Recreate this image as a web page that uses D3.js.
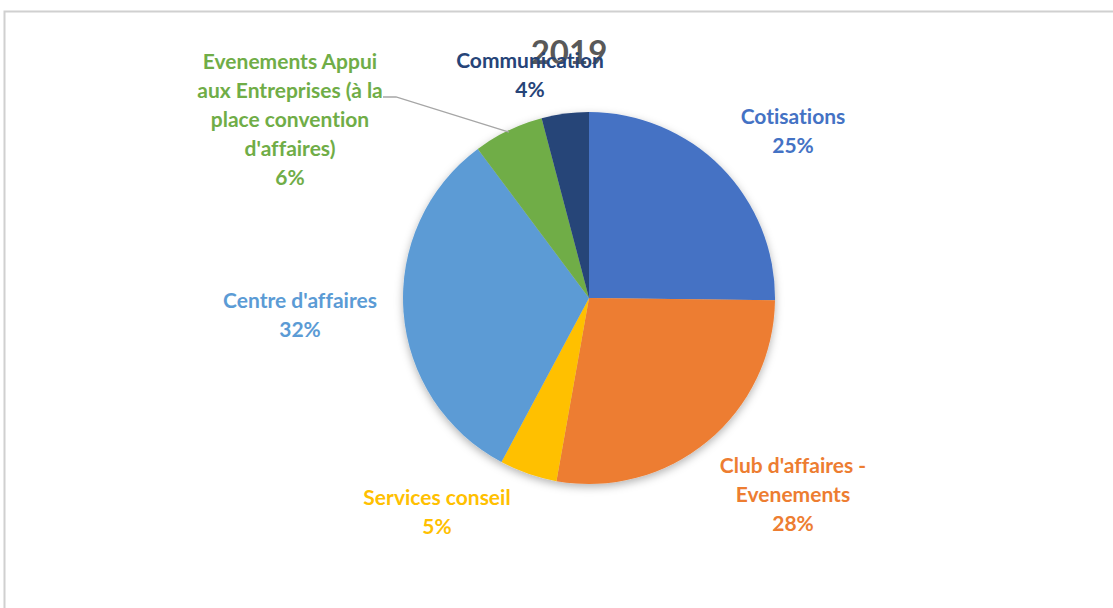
<!DOCTYPE html>
<html>
<head>
<meta charset="utf-8">
<script src="https://cdn.jsdelivr.net/npm/d3@7"></script>
<style>
  html, body { margin: 0; padding: 0; background: #fff; }
  svg { display: block; }
  text { font-family: Lato, "Open Sans", sans-serif; font-weight: bold; font-variant-ligatures: none; }
</style>
</head>
<body>
<svg width="1113" height="608"></svg>
<script>
const svg = d3.select("svg");

// data
const categories = [
    "Cotisations",
    "Club d'affaires - Evenements",
    "Services conseil",
    "Centre d'affaires",
    "Evenements Appui aux Entreprises (à la place convention d'affaires)",
    "Communication"
];
const values = [25.2, 27.6, 5.0, 32.0, 6.1, 4.1];
const pctLabels = ["25%", "28%", "5%", "32%", "6%", "4%"];
const labelLines = [
    ["Cotisations"],
    ["Club d'affaires -", "Evenements"],
    ["Services conseil"],
    ["Centre d'affaires"],
    ["Evenements Appui", "aux Entreprises (à la", "place convention", "d'affaires)"],
    ["Communication"]
];
const colors = ["#4472C4", "#ED7D31", "#FFC000", "#5B9BD5", "#70AD47", "#264478"];

// label placement (center x, first line y)
const labelPos = [[793, 117], [793, 466], [437, 498], [300, 301], [290, 62], [530, 61]];
const lineH = 29;

const cx = 589, cy = 298, r = 186;

// chart area border
svg.append("rect")
    .attr("x", 4.5).attr("y", 11.5)
    .attr("width", 1200).attr("height", 700)
    .attr("fill", "#fff")
    .attr("stroke", "#d0d0d0")
    .attr("stroke-width", 2);

const defs = svg.append("defs");
const f = defs.append("filter").attr("id", "shadow")
    .attr("x", "-20%").attr("y", "-20%").attr("width", "140%").attr("height", "140%");
f.append("feDropShadow")
    .attr("dx", 0).attr("dy", 3)
    .attr("stdDeviation", 4)
    .attr("flood-color", "#000")
    .attr("flood-opacity", 0.3);

const pie = d3.pie().sort(null).value(d => d);
const arcs = pie(values);
const arc = d3.arc().innerRadius(0).outerRadius(r);

const g = svg.append("g").attr("transform", `translate(${cx},${cy})`);

g.append("g").attr("filter", "url(#shadow)")
    .selectAll("path")
    .data(arcs)
    .enter()
    .append("path")
    .attr("d", arc)
    .attr("fill", (d, i) => colors[i]);

// leader line for the small green slice
const green = arcs[4];
const mid = (green.startAngle + green.endAngle) / 2;
const edge = [cx + Math.sin(mid) * r * 0.99, cy - Math.cos(mid) * r * 0.99];
svg.append("polyline")
    .attr("points", [[383, 97], [396, 97], edge].map(p => p.join(",")).join(" "))
    .attr("fill", "none")
    .attr("stroke", "#a6a6a6")
    .attr("stroke-width", 1.3);

// title
svg.append("text")
    .attr("x", 569).attr("y", 64)
    .attr("text-anchor", "middle")
    .attr("font-size", 33)
    .attr("fill", "#595959")
    .text("2019");

// data labels
labelLines.forEach((lines, i) => {
    const t = svg.append("text")
        .attr("text-anchor", "middle")
        .attr("font-size", 21)
        .attr("fill", colors[i]);
    lines.concat([pctLabels[i]]).forEach((s, k) => {
        t.append("tspan")
            .attr("x", labelPos[i][0])
            .attr("y", labelPos[i][1] + k * lineH)
            .attr("dy", "0.35em")
            .text(s);
    });
});
</script>
</body>
</html>
